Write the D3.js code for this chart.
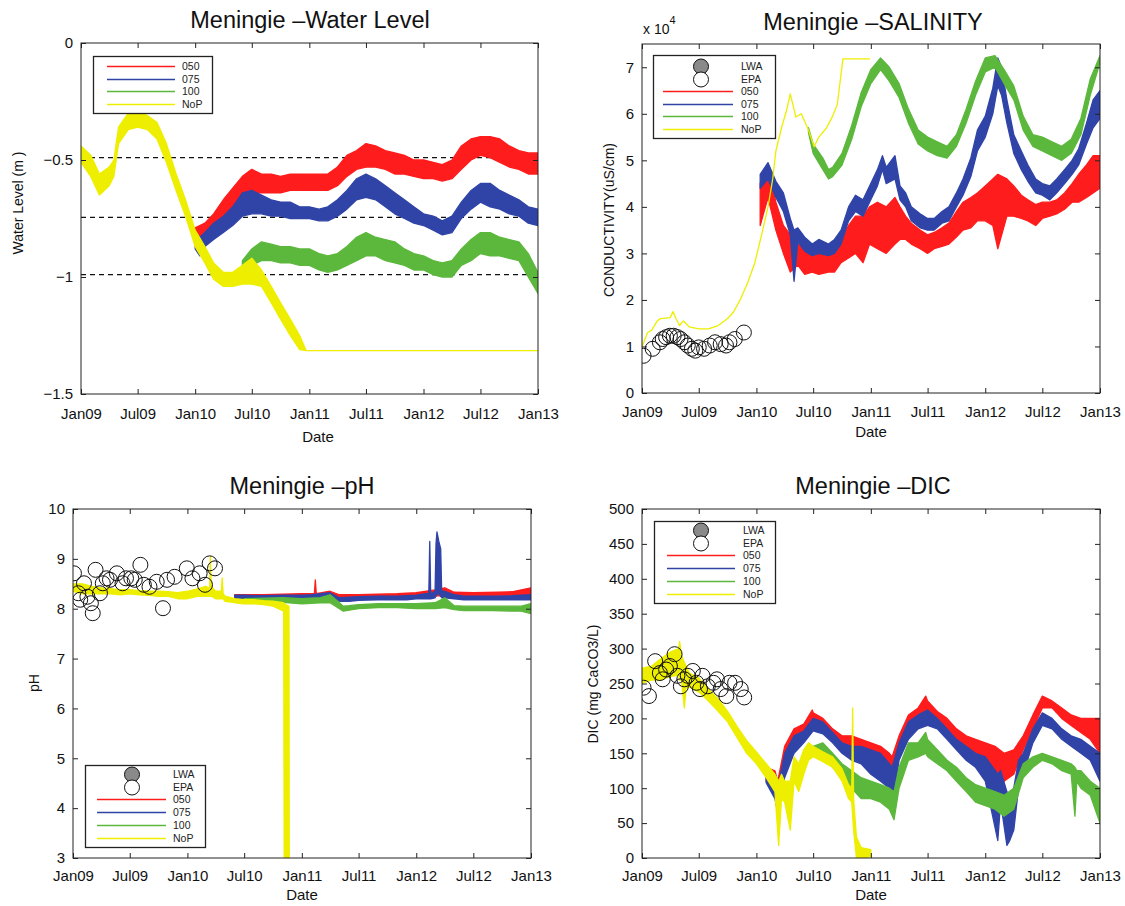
<!DOCTYPE html>
<html>
<head>
<meta charset="utf-8">
<script src="https://d3js.org/d3.v7.min.js"></script>
<style>
  body { margin: 0; background: #fff; }
  svg { font-family: "Liberation Sans", Arial, Helvetica, sans-serif; }
</style>
</head>
<body>
<div id="chart"></div>
<script>

// x positions are months since Jan 2009; each point is [month, low, high] (or [month, value])
var tickMonths = [0, 6, 12, 18, 24, 30, 36, 42, 48];
var xTickLabels = ['Jan09', 'Jul09', 'Jan10', 'Jul10', 'Jan11', 'Jul11', 'Jan12', 'Jul12', 'Jan13'];

var seriesNames = ['050', '075', '100', 'NoP'];
var seriesColors = ['#ff1c1c', '#3044a8', '#5cb83c', '#eeee00'];

// ---- Water level (m)
var wlTicks = [0, -0.5, -1, -1.5];
var wlRefLines = [-0.49, -0.745, -0.99];

var wl050 = [[12,-0.86,-0.79],[13,-0.84,-0.77],[14,-0.80,-0.73],[15,-0.74,-0.67],[16,-0.70,-0.62],
  [17,-0.67,-0.57],[18,-0.64,-0.54],[19,-0.64,-0.56],[20,-0.64,-0.56],[21,-0.64,-0.57],[22,-0.63,-0.56],
  [23,-0.63,-0.56],[24,-0.63,-0.56],[25,-0.63,-0.56],[26,-0.63,-0.56],[27,-0.61,-0.53],[28,-0.57,-0.48],
  [29,-0.54,-0.46],[30,-0.53,-0.43],[31,-0.53,-0.44],[32,-0.54,-0.46],[33,-0.56,-0.47],[34,-0.56,-0.48],
  [35,-0.57,-0.50],[36,-0.58,-0.50],[37,-0.58,-0.51],[38,-0.59,-0.52],[39,-0.58,-0.50],[40,-0.54,-0.44],
  [41,-0.50,-0.41],[42,-0.48,-0.40],[43,-0.49,-0.40],[44,-0.51,-0.41],[45,-0.53,-0.44],[46,-0.54,-0.46],
  [47,-0.56,-0.47],[48,-0.56,-0.47]];

var wl075 = [[12,-0.88,-0.81],[12.5,-0.91,-0.83],[13,-0.87,-0.81],[14,-0.84,-0.77],[15,-0.81,-0.74],
  [16,-0.78,-0.70],[17,-0.74,-0.64],[18,-0.73,-0.63],[19,-0.73,-0.65],[20,-0.74,-0.67],[21,-0.74,-0.68],
  [22,-0.75,-0.68],[23,-0.75,-0.70],[24,-0.75,-0.70],[25,-0.76,-0.71],[26,-0.76,-0.70],[27,-0.74,-0.67],
  [28,-0.71,-0.63],[29,-0.67,-0.58],[30,-0.66,-0.56],[31,-0.67,-0.58],[32,-0.70,-0.61],[33,-0.73,-0.64],
  [34,-0.75,-0.67],[35,-0.77,-0.70],[36,-0.78,-0.73],[37,-0.80,-0.74],[38,-0.82,-0.76],[39,-0.81,-0.74],
  [40,-0.75,-0.68],[41,-0.71,-0.63],[42,-0.68,-0.60],[43,-0.70,-0.60],[44,-0.71,-0.63],[45,-0.73,-0.65],
  [46,-0.74,-0.67],[47,-0.77,-0.70],[48,-0.78,-0.71]];

var wl100 = [[17,-1.00,-0.93],[18,-0.95,-0.88],[19,-0.93,-0.85],[20,-0.93,-0.86],[21,-0.94,-0.87],
  [22,-0.94,-0.87],[23,-0.95,-0.88],[24,-0.95,-0.88],[25,-0.97,-0.90],[26,-0.98,-0.91],[27,-0.97,-0.90],
  [28,-0.95,-0.87],[29,-0.93,-0.83],[30,-0.91,-0.81],[31,-0.91,-0.83],[32,-0.93,-0.84],[33,-0.94,-0.85],
  [34,-0.95,-0.88],[35,-0.97,-0.90],[36,-0.97,-0.91],[37,-0.99,-0.93],[38,-1.00,-0.94],[39,-1.00,-0.93],
  [40,-0.95,-0.88],[41,-0.93,-0.84],[42,-0.90,-0.81],[43,-0.91,-0.81],[44,-0.91,-0.83],[45,-0.92,-0.84],
  [46,-0.93,-0.85],[47,-1.00,-0.90],[48,-1.07,-0.98]];

var wlNoP = [[0,-0.51,-0.44],[1,-0.57,-0.48],[2,-0.65,-0.56],[3,-0.61,-0.53],[3.5,-0.57,-0.50],
  [4,-0.43,-0.36],[5,-0.37,-0.30],[6,-0.36,-0.29],[7,-0.37,-0.31],[8,-0.41,-0.34],[9,-0.51,-0.43],
  [10,-0.63,-0.56],[11,-0.74,-0.67],[12,-0.87,-0.80],[13,-0.94,-0.87],[14,-1.01,-0.94],[15,-1.04,-0.98],
  [16,-1.04,-0.98],[17,-1.03,-0.95],[18,-1.03,-0.92],[19,-1.04,-0.97],[20,-1.11,-1.04],[21,-1.18,-1.11],
  [22,-1.25,-1.18],[23,-1.31,-1.25],[23.7,-1.315],[48,-1.315]];

// ---- Salinity (x 10^4 uS/cm)
var salTicks = [0, 1, 2, 3, 4, 5, 6, 7];

var sal050 = [[12.4,3.6,4.5],[13.2,4.2,4.9],[14.1,3.5,4.1],[14.9,3.0,3.6],[15.6,2.6,3.4],[16.4,2.75,3.2],
  [17.1,2.55,3.1],[17.9,2.6,3.0],[18.6,2.55,3.0],[19.6,2.6,3.0],[20.2,2.6,3.1],[20.9,2.8,3.3],[21.7,2.9,3.6],
  [22.4,3.0,3.8],[23.2,2.8,3.8],[23.9,3.2,4.0],[24.7,3.1,4.1],[25.6,3.0,4.0],[26.6,3.2,4.2],[27.1,3.3,4.0],
  [27.7,3.3,3.8],[28.3,3.2,3.65],[29.2,3.1,3.5],[30.0,3.0,3.4],[30.7,3.1,3.45],[31.5,3.15,3.55],
  [32.2,3.2,3.65],[33.0,3.35,3.9],[33.7,3.5,4.1],[34.5,3.55,4.2],[35.2,3.7,4.3],[36.0,3.7,4.45],
  [36.8,3.6,4.6],[37.3,3.1,4.7],[38.3,3.8,4.6],[39.0,3.8,4.45],[39.8,3.75,4.25],[40.5,3.7,4.15],
  [41.3,3.6,4.05],[42.0,3.75,4.1],[42.8,3.8,4.1],[43.5,3.85,4.15],[44.3,3.95,4.3],[45.1,4.1,4.5],
  [45.8,4.1,4.7],[46.6,4.2,4.9],[47.3,4.3,5.1],[48,4.4,5.1]];

var sal075 = [[12.4,4.4,4.7],[13.2,4.6,4.95],[14.1,4.2,4.55],[14.9,3.9,4.3],[15.6,3.4,3.75],[16.0,2.4,3.5],
  [16.4,3.25,3.55],[17.1,3.05,3.35],[17.9,2.95,3.2],[18.6,3.0,3.3],[19.6,2.95,3.2],[20.2,3.0,3.3],
  [20.9,3.2,3.5],[21.7,3.7,4.0],[22.4,3.9,4.25],[23.2,3.8,4.15],[23.9,4.1,4.45],[24.7,4.45,4.8],
  [25.2,4.8,5.1],[25.6,4.5,4.85],[26.6,4.6,5.1],[27.1,4.15,4.45],[27.7,4.0,4.3],[28.3,3.7,4.0],
  [29.2,3.55,3.85],[30.0,3.5,3.75],[30.7,3.5,3.75],[31.5,3.65,3.9],[32.2,3.7,4.0],[33.0,4.0,4.3],
  [33.7,4.25,4.6],[34.5,4.65,5.05],[35.2,5.2,5.65],[36.0,5.5,5.95],[36.8,6.0,6.55],[37.3,6.6,7.2],
  [37.7,6.4,7.0],[38.3,5.8,6.3],[39.0,5.15,5.55],[39.8,4.8,5.2],[40.5,4.55,4.9],[41.3,4.3,4.6],
  [42.0,4.25,4.5],[42.8,4.15,4.45],[43.5,4.3,4.6],[44.3,4.5,4.8],[45.1,4.7,5.0],[45.8,4.9,5.25],
  [46.6,5.35,5.8],[47.3,5.7,6.3],[48,5.9,6.5]];

var sal100 = [[17.5,5.6,5.7],[18,5.15,5.35],[19,4.8,5.05],[19.6,4.6,4.8],[20,4.65,4.85],[21,4.9,5.15],
  [22,5.45,5.75],[23,6.15,6.45],[24,6.65,6.95],[25,6.95,7.2],[26,6.7,7.0],[27,6.35,6.65],[28,5.8,6.1],
  [29,5.35,5.65],[30,5.2,5.5],[31,5.1,5.4],[32,5.05,5.3],[33,5.3,5.55],[34,5.8,6.1],[35,6.4,6.7],
  [36,6.9,7.2],[37,7.0,7.25],[38,6.65,6.95],[39,6.3,6.6],[40,5.65,5.95],[41,5.3,5.55],[42,5.2,5.5],
  [43,5.1,5.4],[44,5.0,5.3],[45,5.15,5.45],[46,5.55,5.9],[47,6.4,6.75],[48,7.1,7.25]];

var salNoP = [[0,1.0],[0.6,1.3],[1,1.35],[1.6,1.55],[2,1.6],[3,1.62],[3.3,1.75],[3.6,1.6],[4,1.45],
  [4.4,1.55],[5,1.42],[6,1.38],[7,1.38],[8,1.45],[9,1.6],[9.6,1.73],[10.3,2.0],[11.1,2.37],[11.85,2.8],
  [12.6,3.44],[13.2,4.0],[13.7,4.6],[14.1,5.2],[14.7,5.7],[15.2,6.07],[15.6,6.43],[16.2,5.93],
  [16.75,6.0],[17.5,5.65],[18.1,5.29],[18.6,5.5],[19.4,5.7],[20,5.95],[20.5,6.2],[21.1,7.18],[23.9,7.18]];

var salEPA = [[0.15,0.80],[1.09,0.95],[1.85,1.09],[2.23,1.16],[2.6,1.2],[2.98,1.23],[3.36,1.23],
  [3.74,1.2],[4.11,1.16],[4.49,1.09],[4.87,1.02],[5.25,0.95],[5.62,0.91],[6.0,0.98],[6.57,0.95],
  [7.13,1.02],[7.7,1.09],[8.26,1.05],[8.83,1.02],[9.2,1.09],[9.77,1.16],[10.7,1.30]];

// ---- pH
var phTicks = [3, 4, 5, 6, 7, 8, 9, 10];

var ph050 = [[17,8.22,8.28],[20,8.22,8.28],[24,8.23,8.3],[25.3,8.25,8.3],[25.4,8.25,8.58],[25.5,8.25,8.3],
  [27,8.25,8.35],[28,8.2,8.28],[30,8.22,8.28],[34,8.23,8.3],[36,8.25,8.32],[38,8.26,8.38],[39,8.26,8.42],
  [40,8.25,8.33],[42,8.25,8.32],[46,8.26,8.34],[48,8.28,8.42]];

var ph075 = [[17,8.2,8.27],[18,8.2,8.27],[20,8.2,8.26],[22,8.2,8.27],[24,8.2,8.27],[25,8.2,8.28],
  [26,8.22,8.3],[27,8.2,8.32],[28,8.15,8.22],[29,8.15,8.23],[30,8.17,8.24],[32,8.18,8.25],[34,8.18,8.25],
  [35,8.18,8.26],[36,8.2,8.27],[37,8.2,8.3],[37.3,8.2,8.3],[37.4,8.2,9.35],[37.5,8.2,8.3],[38.0,8.22,8.35],
  [38.1,8.25,9.3],[38.2,8.3,9.54],[38.4,8.3,9.35],[38.6,8.25,9.2],[38.7,8.22,8.35],[39,8.22,8.35],
  [40,8.2,8.28],[41,8.18,8.25],[44,8.18,8.25],[46,8.18,8.26],[48,8.18,8.28]];

var ph100 = [[18,8.12,8.2],[22,8.13,8.22],[24,8.1,8.2],[26,8.12,8.22],[27,8.12,8.28],[28,8.0,8.12],
  [28.4,7.95,8.05],[29,7.97,8.06],[30,8.0,8.08],[32,8.02,8.1],[34,8.02,8.1],[36,8.0,8.1],[38,8.0,8.12],
  [39,8.02,8.22],[40,7.98,8.06],[41,7.96,8.05],[44,7.96,8.05],[47,7.95,8.05],[48,7.9,8.1]];

var phNoP = [[0,8.35,8.5],[1,8.3,8.5],[2,8.3,8.45],[3,8.3,8.42],[4,8.3,8.4],[5,8.28,8.38],[6,8.3,8.38],
  [7,8.28,8.36],[8,8.27,8.35],[9,8.25,8.35],[10,8.25,8.34],[11,8.2,8.32],[12,8.2,8.35],[13,8.25,8.4],
  [14,8.25,8.45],[14.4,8.25,8.4],[14.46,8.25,9.05],[14.55,8.25,8.45],[15,8.2,8.35],[15.6,8.2,8.35],
  [15.7,8.2,8.62],[15.8,8.2,8.3],[16,8.15,8.25],[17,8.12,8.2],[18,8.1,8.18],[19,8.1,8.18],[20,8.08,8.16],
  [21,8.05,8.15],[22.1,7.95,8.12],[22.15,2,8.1],[22.65,2,8.05],[22.7,2,2]];

var phEPA = [[0.11,8.71],[0.56,8.31],[0.75,8.18],[1.12,8.51],[1.49,8.24],[1.87,8.11],[2.13,7.91],
  [2.43,8.78],[2.88,8.31],[3.18,8.51],[3.55,8.61],[3.92,8.58],[4.67,8.71],[5.23,8.51],[5.6,8.61],
  [6.16,8.61],[6.54,8.58],[7.1,8.88],[7.47,8.48],[8.03,8.44],[8.78,8.54],[9.45,8.01],[9.9,8.58],
  [10.65,8.64],[11.95,8.81],[12.51,8.61],[13.26,8.71],[13.82,8.48],[14.38,8.91],[14.94,8.81]];

// ---- DIC (mg CaCO3/L)
var dicTicks = [0, 50, 100, 150, 200, 250, 300, 350, 400, 450, 500];

var dic050 = [[13,110,130],[14,90,125],[14.3,65,110],[15,120,160],[16,160,185],[17,175,192],[17.9,195,212],
  [18,190,208],[19,185,200],[20,170,185],[21,155,175],[22,145,175],[23,140,170],[24,130,165],[25,120,160],
  [26,115,150],[26.3,85,145],[27,145,175],[28,185,205],[29,195,215],[29.8,200,232],[30,200,225],
  [31,195,210],[32,180,200],[33,165,185],[34,155,175],[35,150,170],[36,140,165],[37,120,160],[38,110,150],
  [39,120,155],[40,155,175],[41,185,205],[42,215,232],[43,215,225],[44,200,215],[45,190,205],[46,180,200],
  [47,170,200],[48,150,200]];

var dic075 = [[13,108,128],[14,85,120],[14.3,65,100],[15,115,150],[16,150,175],[17,165,182],[18,182,200],
  [19,178,195],[20,165,180],[21,150,165],[22,140,160],[23,135,160],[24,120,155],[25,110,150],[26,100,135],
  [26.3,75,130],[27,140,165],[28,170,195],[29,185,205],[30,190,212],[31,185,200],[32,170,185],
  [33,155,170],[34,140,160],[35,130,150],[36,110,145],[37.3,25,120],[37.6,80,125],[38.3,18,95],
  [38.6,25,90],[39,40,100],[39.5,100,140],[40,120,150],[41,165,185],[42,190,208],[43,185,200],
  [44,170,185],[45,160,175],[46,150,170],[47,140,160],[48,110,150]];

var dic100 = [[18,148,160],[19,145,165],[20,130,150],[21,115,135],[22,100,125],[23,85,115],[24,85,110],
  [25,80,105],[26,70,100],[26.5,55,95],[27,100,130],[28,140,165],[29,145,165],[29.8,150,180],[30,145,170],
  [31,135,155],[32,125,140],[33,110,130],[34,95,115],[35,80,105],[36,75,100],[37,70,95],[38,60,90],
  [39,70,100],[40,115,135],[41,130,145],[42,140,150],[43,135,145],[44,125,140],[45,120,135],[45.4,60,130],
  [45.6,110,125],[46,100,125],[47,90,110],[48,50,100]];

var dicNoP = [[0,250,272],[1,255,275],[2,255,285],[3,260,295],[3.9,262,300],[4.0,255,310],[4.2,255,290],
  [4.5,215,280],[4.7,245,275],[5,245,265],[6,238,258],[7,225,242],[8,210,228],[9,195,210],[10,172,188],
  [11,150,168],[12,135,152],[13,115,135],[14,95,120],[14.4,18,110],[14.7,85,120],[15,80,110],
  [15.6,40,110],[16,110,145],[16.5,95,135],[17,120,155],[17.5,140,165],[18,145,160],[19,138,152],
  [20,130,145],[21,110,128],[21.7,85,105],[22.0,80,100],[22.1,60,215],[22.2,40,85],[22.5,0,30],
  [23,0,15],[24,2,12]];

var dicEPA = [[0.15,244],[0.72,232],[1.36,282],[1.85,265],[2.23,256],[2.6,270],[2.98,275],[3.47,292],
  [3.74,261],[4.12,246],[4.49,256],[4.87,261],[5.36,268],[5.74,251],[6.12,242],[6.38,261],[6.95,246],
  [7.51,251],[7.89,256],[8.27,242],[8.84,232],[9.21,251],[9.78,251],[10.35,242],[10.72,230]];


var width = 1125, height = 906;
var t0 = new Date(2009, 0, 1);

function monthDate(m) {
  var whole = Math.floor(m);
  return d3.timeDay.offset(d3.timeMonth.offset(t0, whole), Math.round((m - whole) * 30.44));
}

var svg = d3.select('#chart').append('svg')
    .attr('width', width)
    .attr('height', height);

svg.append('rect').attr('width', width).attr('height', height).attr('fill', '#fff');

var panels = [
  {
    id: 'wl', left: 81, top: 43, right: 538, bottom: 394,
    yDomain: [-1.5, 0], yTicks: wlTicks, xPad: 14,
    title: 'Meningie \u2013Water Level', titlePos: [310, 28],
    yLabel: 'Water Level (m )', yLabelPos: [18, 203],
    datePos: [318, 437],
    series: [wl050, wl075, wl100, wlNoP], refLines: wlRefLines,
    legend: { box: [93, 56, 212, 113], y0: 66, step: 12.6, line: [107, 175], marker: 0, text: 182, circles: false }
  },
  {
    id: 'sal', left: 642, top: 44, right: 1100, bottom: 393,
    yDomain: [0, 7.5], yTicks: salTicks, xPad: 13,
    title: 'Meningie \u2013SALINITY', titlePos: [873, 30],
    yLabel: 'CONDUCTIVITY(uS/cm)', yLabelPos: [609, 220],
    datePos: [871, 432],
    series: [sal050, sal075, sal100, salNoP], epa: salEPA, exponent: true,
    legend: { box: [653, 55, 775, 138], y0: 66, step: 12.6, line: [663, 733], marker: 701, text: 741, circles: true }
  },
  {
    id: 'ph', left: 73, top: 509, right: 531, bottom: 858,
    yDomain: [3, 10], yTicks: phTicks, xPad: 12,
    title: 'Meningie \u2013pH', titlePos: [302, 494],
    yLabel: 'pH', yLabelPos: [34, 683],
    datePos: [302, 895],
    series: [ph050, ph075, ph100, phNoP], epa: phEPA,
    legend: { box: [85, 765, 205, 847], y0: 774, step: 12.7, line: [97, 166], marker: 132, text: 173, circles: true }
  },
  {
    id: 'dic', left: 642, top: 509, right: 1100, bottom: 858,
    yDomain: [0, 500], yTicks: dicTicks, xPad: 12,
    title: 'Meningie \u2013DIC', titlePos: [873, 494],
    yLabel: 'DIC (mg CaCO3/L)', yLabelPos: [593, 684],
    datePos: [871, 895],
    series: [dic050, dic075, dic100, dicNoP], epa: dicEPA,
    legend: { box: [654, 521, 775, 603], y0: 530, step: 12.7, line: [667, 735], marker: 701, text: 743, circles: true }
  }
];

panels.forEach(drawPanel);


function drawPanel(p) {

  var x = d3.scaleTime()
      .domain([monthDate(0), monthDate(48)])
      .range([p.left, p.right]);

  var y = d3.scaleLinear()
      .domain(p.yDomain)
      .range([p.bottom, p.top]);

  var g = svg.append('g').attr('class', 'panel-' + p.id);

  g.append('clipPath').attr('id', 'clip-' + p.id)
    .append('rect')
      .attr('x', p.left).attr('y', p.top)
      .attr('width', p.right - p.left).attr('height', p.bottom - p.top);

  var plot = g.append('g').attr('clip-path', 'url(#clip-' + p.id + ')');

  // reference levels (water level only)
  (p.refLines || []).forEach(function(v) {
    plot.append('line')
      .attr('x1', p.left).attr('x2', p.right)
      .attr('y1', y(v)).attr('y2', y(v))
      .attr('stroke', '#111')
      .attr('stroke-width', 1.1)
      .attr('stroke-dasharray', '5,4');
  });

  var band = d3.area()
      .x(function(d) { return x(monthDate(d[0])); })
      .y0(function(d) { return y(d[1]); })
      .y1(function(d) { return y(d.length > 2 ? d[2] : d[1]); });

  p.series.forEach(function(data, i) {
    plot.append('path')
      .datum(data)
      .attr('d', band)
      .attr('fill', seriesColors[i])
      .attr('stroke', seriesColors[i])
      .attr('stroke-width', 1.3)
      .attr('stroke-linejoin', 'round');
  });

  if (p.epa) {
    plot.selectAll('circle.epa')
      .data(p.epa)
      .enter().append('circle')
        .attr('class', 'epa')
        .attr('cx', function(d) { return x(monthDate(d[0])); })
        .attr('cy', function(d) { return y(d[1]); })
        .attr('r', 7.5)
        .attr('fill', 'none')
        .attr('stroke', '#111')
        .attr('stroke-width', 1);
  }

  // axes, matlab style: inward ticks on all four sides
  var tickDates = tickMonths.map(monthDate);
  var fmtY = function(d) { return String(d).replace('-', '\u2212'); };

  var axes = [
    g.append('g').attr('transform', 'translate(0,' + p.bottom + ')')
      .call(d3.axisBottom(x).tickValues(tickDates)
        .tickFormat(function(d, i) { return xTickLabels[i]; })
        .tickSizeInner(-5).tickSizeOuter(0).tickPadding(p.xPad)),
    g.append('g').attr('transform', 'translate(0,' + p.top + ')')
      .call(d3.axisTop(x).tickValues(tickDates).tickFormat('')
        .tickSizeInner(-5).tickSizeOuter(0)),
    g.append('g').attr('transform', 'translate(' + p.left + ',0)')
      .call(d3.axisLeft(y).tickValues(p.yTicks).tickFormat(fmtY)
        .tickSizeInner(-5).tickSizeOuter(0).tickPadding(8)),
    g.append('g').attr('transform', 'translate(' + p.right + ',0)')
      .call(d3.axisRight(y).tickValues(p.yTicks).tickFormat('')
        .tickSizeInner(-5).tickSizeOuter(0))
  ];

  axes.forEach(function(a) {
    a.select('.domain').remove();
    a.selectAll('.tick line').attr('stroke', '#222');
    a.selectAll('.tick text')
      .attr('fill', '#111')
      .style('font-size', '15px')
      .style('font-family', '"Liberation Sans", Arial, sans-serif');
  });

  g.append('rect')
    .attr('x', p.left).attr('y', p.top)
    .attr('width', p.right - p.left).attr('height', p.bottom - p.top)
    .attr('fill', 'none')
    .attr('stroke', '#222')
    .attr('stroke-width', 1);

  if (p.exponent) {
    var ex = g.append('text')
      .attr('x', p.left + 1).attr('y', p.top - 10)
      .attr('fill', '#111')
      .style('font-size', '14px');
    ex.append('tspan').text('x 10');
    ex.append('tspan').attr('dy', -10).style('font-size', '11px').text('4');
  }

  // labels
  g.append('text')
    .attr('x', p.titlePos[0]).attr('y', p.titlePos[1])
    .attr('text-anchor', 'middle')
    .attr('fill', '#111')
    .style('font-size', '23.5px')
    .text(p.title);

  g.append('text')
    .attr('transform', 'translate(' + p.yLabelPos[0] + ',' + p.yLabelPos[1] + ') rotate(-90)')
    .attr('text-anchor', 'middle')
    .attr('dy', '0.35em')
    .attr('fill', '#111')
    .style('font-size', '14px')
    .text(p.yLabel);

  g.append('text')
    .attr('x', p.datePos[0]).attr('y', p.datePos[1])
    .attr('text-anchor', 'middle')
    .attr('dy', '0.35em')
    .attr('fill', '#111')
    .style('font-size', '15px')
    .text('Date');

  drawLegend(g, p.legend);
}


function drawLegend(g, L) {

  var lg = g.append('g').attr('class', 'legend');

  lg.append('rect')
    .attr('x', L.box[0] + 0.5).attr('y', L.box[1] + 0.5)
    .attr('width', L.box[2] - L.box[0]).attr('height', L.box[3] - L.box[1])
    .attr('fill', '#fff')
    .attr('stroke', '#222')
    .attr('stroke-width', 1.3);

  var row = 0;
  var rowY = function(r) { return Math.round(L.y0 + r * L.step) + 0.5; };

  if (L.circles) {
    [['LWA', '#8a8a8a'], ['EPA', '#fff']].forEach(function(c) {
      var cy = rowY(row);
      lg.append('circle')
        .attr('cx', L.marker).attr('cy', cy).attr('r', 7.5)
        .attr('fill', c[1])
        .attr('stroke', '#111');
      lg.append('text')
        .attr('x', L.text).attr('y', cy).attr('dy', '0.35em')
        .attr('fill', '#222')
        .style('font-size', '10.5px')
        .text(c[0]);
      row++;
    });
  }

  seriesNames.forEach(function(name, i) {
    var cy = rowY(row);
    lg.append('line')
      .attr('x1', L.line[0]).attr('x2', L.line[1])
      .attr('y1', cy).attr('y2', cy)
      .attr('stroke', seriesColors[i])
      .attr('stroke-width', 1.6);
    lg.append('text')
      .attr('x', L.text).attr('y', cy).attr('dy', '0.35em')
      .attr('fill', '#222')
      .style('font-size', '10.5px')
      .text(name);
    row++;
  });
}

</script>
</body>
</html>
